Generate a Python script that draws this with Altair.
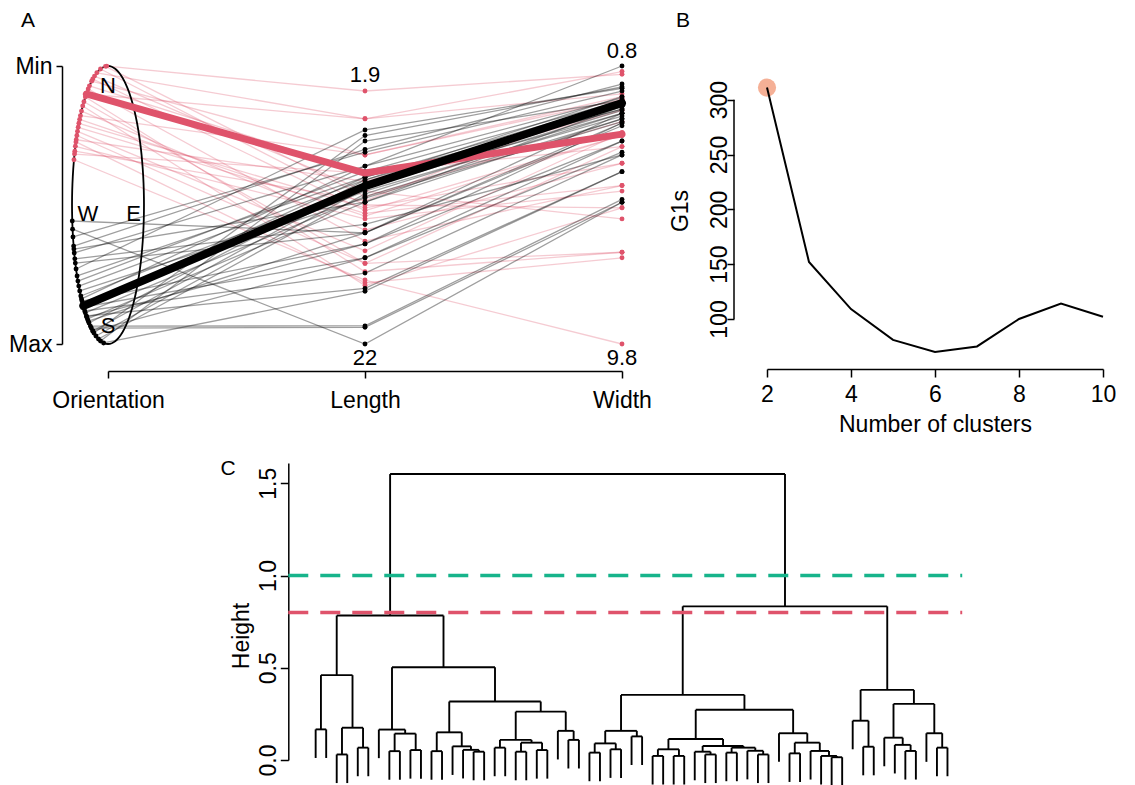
import altair as alt
import numpy as np
import pandas as pd

FONT = "Liberation Sans"
RED = "#DF536B"
GREEN = "#17B48B"
SALMON = "#F5B096"
FS = 23

# ---------------- Panel A data ----------------
# orientation = compass bearing (deg); length / width = scaled position (0 = Min at top, 1 = Max at bottom)
red_orient = [358, 342, 335, 329, 323, 310, 306, 304, 300, 297, 295, 291.5, 289,
              348, 338, 326.6, 318, 312.5, 302, 292.8, 333, 315.4, 308, 298, 321, 356]
red_length = [0.09, 0.19, 0.52, 0.385, 0.19, 0.32, 0.51, 0.53, 0.71, 0.78, 0.55, 0.385, 0.77,
              0.50, 0.45, 0.63, 0.71, 0.59, 0.665, 0.485, 0.32, 0.79, 0.54, 0.415, 0.74, 0.47]
red_width = [0.03, 0.10, 0.25, 0.29, 0.02, 0.12, 0.35, 0.43, 0.67, 0.69, 0.45, 0.24, 1.0,
             0.51, 0.55, 0.43, 0.29, 0.35, 0.24, 0.12, 0.11, 0.51, 0.25, 0.16, 0.67, 0.20]

black_orient = [263.4, 260, 252.8, 249.8, 247.2, 242.6, 239.3, 234.3, 229.1, 224.6,
                219.1, 214.9, 209.4, 207.7, 203, 192, 226.3, 222.8, 220.3, 217,
                211.9, 205, 199.6, 195.4, 231.8, 236.8, 245.3, 251.5, 256.7, 213.4,
                216.3, 223.4, 227.5, 205, 187]
black_length = [0.60, 1.0, 0.30, 0.36, 0.57, 0.23, 0.40, 0.41, 0.43, 0.45,
                0.47, 0.49, 0.935, 0.94, 0.25, 0.27, 0.64, 0.69, 0.745, 0.80,
                0.41, 0.42, 0.44, 0.46, 0.475, 0.38, 0.60, 0.49, 0.31, 0.60,
                0.64, 0.40, 0.36, 0.69, 0.81]
black_width = [0.205, 0.49, 0.065, 0.0, 0.32, 0.08, 0.13, 0.155, 0.17, 0.18,
               0.19, 0.145, 0.48, 0.49, 0.075, 0.125, 0.27, 0.31, 0.32, 0.38,
               0.11, 0.145, 0.16, 0.17, 0.20, 0.125, 0.215, 0.19, 0.09, 0.17,
               0.205, 0.155, 0.115, 0.27, 0.38]

mean_cluster = ["red", "black"]
mean_orient = [323, 223.4]
mean_length = [0.385, 0.432]
mean_width = [0.245, 0.133]

# ---------------- Panel B data ----------------
n_clusters = [2, 3, 4, 5, 6, 7, 8, 9, 10]
g1s = [311, 152, 109, 81, 70, 75, 100, 114, 102]

# ---------------- Panel C data (hierarchical clustering tree: (height, left, right); () = leaf) ----------------
L = ()
group1 = (0.46, (0.166, L, L), (0.175, (0.03, L, L), (0.067, L, L)))
g2a = (0.165, L, (0.143, (0.048, L, L), (0.054, L, L)))
g2b1 = (0.15, (0.048, L, L), (0.074, L, (0.055, L, (0.045, L, L))))
g2b2 = (0.262, (0.109, (0.067, L, L), (0.094, (0.045, L, L), (0.054, L, L))),
        (0.158, L, (0.109, L, L)))
left_main = (0.783, group1, (0.503, g2a, (0.317, g2b1, g2b2)))
r1a = (0.158, (0.09, (0.04, L, L), (0.058, L, L)), (0.128, L, L))
r1b1 = (0.114, (0.058, (0.022, L, L), (0.022, L, L)),
        (0.076, (0.045, L, (0.03, L, L)), (0.067, (0.04, L, L), (0.05, L, (0.03, L, L)))))
r1b2 = (0.145, L, (0.094, (0.036, L, L), (0.049, L, (0.022, L, (0.015, L, L)))))
r2 = (0.38, (0.213, L, (0.072, L, L)),
      (0.304, (0.121, L, (0.082, L, (0.049, L, L))), (0.145, L, (0.067, L, L))))
right_main = (0.833, (0.353, r1a, (0.272, r1b1, r1b2)), r2)
tree = (1.55, left_main, right_main)
cut_heights = [1.0, 0.8]
cut_colors = [GREEN, RED]

# ================= Panel A =================
ELL_A = 0.14  # half-width of the orientation ellipse in axis units


def orient_xy(b):
    r = np.radians(b)
    return ELL_A * np.sin(r), 0.5 - 0.5 * np.cos(r)


rows = []
for cl, O, Ln, W in (("red", red_orient, red_length, red_width),
                      ("black", black_orient, black_length, black_width)):
    for i, (o, l, w) in enumerate(zip(O, Ln, W)):
        ox, oy = orient_xy(o)
        for k, (x, y) in enumerate(((ox, oy), (1, l), (2, w))):
            rows.append(dict(id=f"{cl}{i}", cluster=cl, x=float(x), y=float(y), k=k))
lines = pd.DataFrame(rows)

mrows = []
for cl, o, l, w in zip(mean_cluster, mean_orient, mean_length, mean_width):
    ox, oy = orient_xy(o)
    for k, (x, y) in enumerate(((ox, oy), (1, l), (2, w))):
        mrows.append(dict(cluster=cl, x=float(x), y=float(y), k=k))
means = pd.DataFrame(mrows)

t = np.arange(0, 361, 3)
ell = pd.DataFrame({"x": ELL_A * np.sin(np.radians(t)), "y": 0.5 - 0.5 * np.cos(np.radians(t)), "t": t})

X_A = alt.X("x:Q", scale=alt.Scale(domain=[0, 2], nice=False, zero=False),
            axis=alt.Axis(values=[0, 1, 2],
                          labelExpr="datum.value == 0 ? 'Orientation' : (datum.value == 1 ? 'Length' : 'Width')",
                          offset=27, tickSize=7, labelPadding=11, labelFontSize=FS, grid=False,
                          labelFlush=False, title=None, domainWidth=1.5, tickWidth=1.5))
Y_A = alt.Y("y:Q", scale=alt.Scale(domain=[0, 1], reverse=True, nice=False, zero=False),
            axis=alt.Axis(values=[0, 1], labelExpr="datum.value == 0 ? 'Min' : 'Max'",
                          offset=46, tickSize=6, labelPadding=4, labelFontSize=FS, grid=False,
                          labelFlush=False, title=None, domainWidth=1.5, tickWidth=1.5))

red_lines = alt.Chart(lines[lines.cluster == "red"]).mark_line(
    color=RED, opacity=0.3, strokeWidth=1.3).encode(x=X_A, y=Y_A, detail="id:N", order="k:Q")
black_lines = alt.Chart(lines[lines.cluster == "black"]).mark_line(
    color="black", opacity=0.38, strokeWidth=1.3).encode(x=X_A, y=Y_A, detail="id:N", order="k:Q")
ellipse = alt.Chart(ell).mark_line(color="black", strokeWidth=1.8).encode(x=X_A, y=Y_A, order="t:Q")
dots = alt.Chart(lines).mark_circle(size=24, opacity=1).encode(
    x=X_A, y=Y_A,
    color=alt.Color("cluster:N", scale=alt.Scale(domain=["red", "black"], range=[RED, "black"]), legend=None))
mean_red = alt.Chart(means[means.cluster == "red"]).mark_line(
    color=RED, strokeWidth=7, strokeCap="round", strokeJoin="round").encode(x=X_A, y=Y_A, order="k:Q")
mean_black = alt.Chart(means[means.cluster == "black"]).mark_line(
    color="black", strokeWidth=8, strokeCap="round", strokeJoin="round").encode(x=X_A, y=Y_A, order="k:Q")

ann = pd.DataFrame({
    "x": [1, 1, 2, 2, 0, -0.078, 0.10, 0.0],
    "y": [0.032, 1.052, -0.054, 1.052, 0.072, 0.532, 0.532, 0.935],
    "t": ["1.9", "22", "0.8", "9.8", "N", "W", "E", "S"],
})
ann_text = alt.Chart(ann).mark_text(fontSize=22, color="black", baseline="middle").encode(
    x=X_A, y=Y_A, text="t:N")
lab_a = alt.Chart(pd.DataFrame({"t": ["A"]})).mark_text(fontSize=21, color="black").encode(
    x=alt.value(-80), y=alt.value(-45), text="t:N")

panel_a = alt.layer(red_lines, black_lines, ellipse, dots, mean_red, mean_black, ann_text, lab_a).properties(
    width=514, height=278)

# ================= Panel B =================
dfb = pd.DataFrame({"k": n_clusters, "g": g1s})
X_B = alt.X("k:Q", scale=alt.Scale(domain=[2, 10], nice=False, zero=False),
            axis=alt.Axis(values=[2, 4, 6, 8, 10], offset=50, tickSize=8, labelPadding=6, labelFontSize=FS,
                          labelFlush=False, title="Number of clusters", titleFontSize=FS,
                          titleFontWeight="normal", titlePadding=7, grid=False, domainWidth=1.5,
                          tickWidth=1.5))
Y_B = alt.Y("g:Q", scale=alt.Scale(domain=[100, 330.7], nice=False, zero=False),
            axis=alt.Axis(values=[100, 150, 200, 250, 300], offset=33, tickSize=7, labelAngle=270,
                          labelAlign="center", labelBaseline="alphabetic", labelPadding=1,
                          labelFlush=False, labelFontSize=FS, domain=False, grid=False, title=None,
                          tickWidth=1.5))
b_axis_line = alt.Chart(pd.DataFrame({"g": [100], "g2": [300]})).mark_rule(
    color="black", strokeWidth=1.5).encode(x=alt.value(-33), y=Y_B, y2="g2:Q")
b_point = alt.Chart(dfb.iloc[[0]]).mark_circle(size=330, color=SALMON, opacity=1).encode(x=X_B, y=Y_B)
b_line = alt.Chart(dfb).mark_line(color="black", strokeWidth=2).encode(x=X_B, y=Y_B)
b_title = alt.Chart(pd.DataFrame({"t": ["G1s"]})).mark_text(
    fontSize=FS, angle=270, color="black").encode(x=alt.value(-86), y=alt.value(145), text="t:N")
lab_b = alt.Chart(pd.DataFrame({"t": ["B"]})).mark_text(fontSize=21, color="black").encode(
    x=alt.value(-84), y=alt.value(-45), text="t:N")
panel_b = alt.layer(b_axis_line, b_point, b_line, b_title, lab_b).properties(width=336, height=253)

# ================= Panel C =================
HANG = 0.155
segs = []
counter = [0]


def walk(node):
    if not node:
        i = counter[0]
        counter[0] += 1
        return float(i), None
    h, a, b = node
    xa, ha = walk(a)
    xb, hb = walk(b)
    for xc, hc in ((xa, ha), (xb, hb)):
        bottom = hc if hc is not None else h - HANG
        segs.append(dict(x=xc, x2=xc, y=bottom, y2=h))
    segs.append(dict(x=xa, x2=xb, y=h, y2=h))
    return (xa + xb) / 2, h


walk(tree)
segdf = pd.DataFrame(segs)
n_leaves = counter[0]

X_C = alt.X("x:Q", scale=alt.Scale(domain=[-19.72, 61.38], nice=False, zero=False), axis=None)
Y_C = alt.Y("y:Q", scale=alt.Scale(domain=[0, 1.61], nice=False, zero=False),
            axis=alt.Axis(values=[0, 0.5, 1, 1.5], format=".1f", offset=-180.3, tickSize=8,
                          labelAngle=270, labelAlign="center", labelBaseline="alphabetic",
                          labelPadding=5, labelFontSize=FS, labelFlush=False, title=None, grid=False,
                          domainWidth=1.5, tickWidth=1.5))
dendro = alt.Chart(segdf).mark_rule(color="black", strokeWidth=1.9).encode(
    x=X_C, x2="x2:Q", y=Y_C, y2="y2:Q")
cuts = alt.Chart(pd.DataFrame({"y": cut_heights, "c": cut_colors,
                               "x": [-2.6] * 2, "x2": [n_leaves + 0.4] * 2})).mark_rule(
    strokeWidth=3.5, strokeDash=[20, 12]).encode(x=X_C, x2="x2:Q", y=Y_C,
                                                 color=alt.Color("c:N", scale=None))
c_title = alt.Chart(pd.DataFrame({"t": ["Height"]})).mark_text(
    fontSize=FS, angle=270, color="black").encode(x=alt.value(134), y=alt.value(173), text="t:N")
lab_c = alt.Chart(pd.DataFrame({"t": ["C"]})).mark_text(fontSize=21, color="black").encode(
    x=alt.value(120), y=alt.value(6), text="t:N")
panel_c = alt.layer(dendro, cuts, c_title, lab_c).properties(width=854, height=297)

top = alt.hconcat(panel_a, panel_b, spacing=145, bounds="flush")
chart = alt.vconcat(top, panel_c, spacing=397, bounds="flush").properties(
    padding={"left": 0, "top": 2, "right": 0, "bottom": 0}
).configure_view(stroke=None).configure_axis(
    labelFont=FONT, titleFont=FONT, labelColor="black", titleColor="black",
    domainColor="black", tickColor="black"
).configure_text(font=FONT)

chart.save("out.html", embed_options={"renderer": "svg", "actions": False})
